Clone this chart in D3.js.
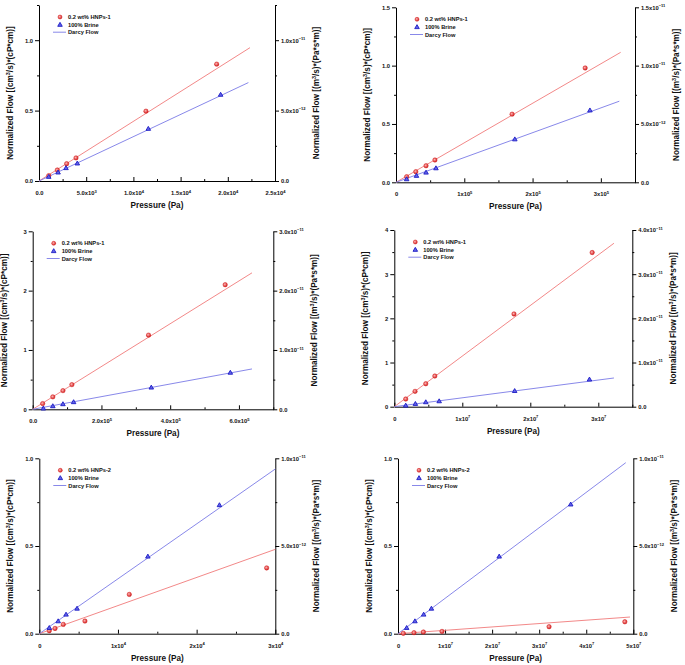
<!DOCTYPE html>
<html><head><meta charset="utf-8">
<script src="https://cdn.jsdelivr.net/npm/d3@7"></script>
<style>
body{margin:0;background:#fff}
svg{display:block}
text{font-family:"Liberation Sans",Arial,sans-serif;font-weight:bold;fill:#111}
</style>
</head><body>
<svg id="c" width="685" height="665"></svg>
<script>
// ---------------- DATA ----------------
// Panel 1 (top-left)
const p1Legend = ["0.2 wt% HNPs-1", "100% Brine", "Darcy Flow"];
const p1Hnp = [[1030,0.038],[1940,0.078],[2930,0.123],[3920,0.164],[11330,0.496],[18820,0.83]];
const p1Brine = [[1030,0.031],[2020,0.062],[2860,0.093],[4060,0.126],[11580,0.372],[19240,0.614]];
const p1DarcyHnp = [[0,0],[22350,0.947]];
const p1DarcyBrine = [[0,0],[22180,0.699]];
const p1XTicks = [0,5000,10000,15000,20000,25000];
const p1XLabels = ["0.0","5.0x10^3","1.0x10^4","1.5x10^4","2.0x10^4","2.5x10^4"];
const p1YTicks = [0,0.5,1.0];
const p1YLabels = ["0.0","0.5","1.0"];
const p1Y2Ticks = [0,5e-12,1e-11];
const p1Y2Labels = ["0.0","5.0x10^-12","1.0x10^-11"];

// Panel 2 (top-right)
const p2Legend = ["0.2 wt% HNPs-1", "100% Brine", "Darcy Flow"];
const p2Hnp = [[15600,0.048],[29000,0.091],[44000,0.142],[57000,0.191],[170000,0.584],[277000,0.98]];
const p2Brine = [[15600,0.028],[30000,0.057],[44000,0.085],[58500,0.122],[174000,0.37],[284000,0.618]];
const p2DarcyHnp = [[0,0],[329000,1.114]];
const p2DarcyBrine = [[0,0],[327000,0.695]];
const p2XTicks = [0,100000,200000,300000];
const p2XLabels = ["0","1x10^5","2x10^5","3x10^5"];
const p2YTicks = [0,0.5,1.0,1.5];
const p2YLabels = ["0.0","0.5","1.0","1.5"];
const p2Y2Ticks = [0,5e-12,1e-11,1.5e-11];
const p2Y2Labels = ["0.0","5.0x10^-12","1.0x10^-11","1.5x10^-11"];

// Panel 3 (middle-left)
const p3Legend = ["0.2 wt% HNPs-1", "100% Brine", "Darcy Flow"];
const p3Hnp = [[29000,0.096],[58500,0.21],[88000,0.315],[114000,0.416],[337000,1.25],[560000,2.10]];
const p3Brine = [[31000,0.017],[58500,0.056],[88000,0.09],[119000,0.124],[345000,0.37],[575000,0.62]];
const p3DarcyHnp = [[0,0],[638000,2.30]];
const p3DarcyBrine = [[0,0],[638000,0.68]];
const p3XTicks = [0,200000,400000,600000];
const p3XLabels = ["0.0","2.0x10^5","4.0x10^5","6.0x10^5"];
const p3YTicks = [0,1,2,3];
const p3YLabels = ["0","1","2","3"];
const p3Y2Ticks = [0,1e-11,2e-11,3e-11];
const p3Y2Labels = ["0.0","1.0x10^-11","2.0x10^-11","3.0x10^-11"];

// Panel 4 (middle-right)
const p4Legend = ["0.2 wt% HNPs-1", "100% Brine", "Darcy Flow"];
const p4Hnp = [[1.68e6,0.174],[3.05e6,0.347],[4.63e6,0.52],[5.96e6,0.694],[1.76e7,2.10],[2.91e7,3.49]];
const p4Brine = [[1.68e6,0.03],[3.1e6,0.068],[4.63e6,0.106],[6.6e6,0.128],[1.77e7,0.36],[2.87e7,0.62]];
const p4DarcyHnp = [[0,0],[3.23e7,3.70]];
const p4DarcyBrine = [[0,0],[3.23e7,0.65]];
const p4XTicks = [0,1e7,2e7,3e7];
const p4XLabels = ["0","1x10^7","2x10^7","3x10^7"];
const p4YTicks = [0,1,2,3,4];
const p4YLabels = ["0","1","2","3","4"];
const p4Y2Ticks = [0,1e-11,2e-11,3e-11,4e-11];
const p4Y2Labels = ["0.0","1.0x10^-11","2.0x10^-11","3.0x10^-11","4.0x10^-11"];

// Panel 5 (bottom-left)
const p5Legend = ["0.2 wt% HNPs-2", "100% Brine", "Darcy Flow"];
const p5Hnp = [[1270,0.017],[2000,0.03],[3050,0.053],[5800,0.072],[11440,0.224],[28900,0.375]];
const p5Brine = [[1270,0.034],[2400,0.072],[3400,0.11],[4800,0.144],[13800,0.441],[22900,0.734]];
const p5DarcyHnp = [[0,0],[30000,0.481]];
const p5DarcyBrine = [[0,0],[30000,0.939]];
const p5XTicks = [0,10000,20000,30000];
const p5XLabels = ["0","1x10^4","2x10^4","3x10^4"];
const p5YTicks = [0,0.5,1.0];
const p5YLabels = ["0.0","0.5","1.0"];
const p5Y2Ticks = [0,5e-12,1e-11];
const p5Y2Labels = ["0.0","5.0x10^-12","1.0x10^-11"];

// Panel 6 (bottom-right)
const p6Legend = ["0.2 wt% HNPs-2", "100% Brine", "Darcy Flow"];
const p6Hnp = [[1.13e6,0.002],[3.4e6,0.006],[5.4e6,0.0095],[9.35e6,0.013],[3.21e7,0.04],[4.82e7,0.068]];
const p6Brine = [[1.84e6,0.034],[3.6e6,0.072],[5.45e6,0.11],[7.1e6,0.144],[2.15e7,0.441],[3.67e7,0.738]];
const p6DarcyHnp = [[0,0],[4.93e7,0.095]];
const p6DarcyBrine = [[0,0],[4.84e7,0.975]];
const p6XTicks = [0,1e7,2e7,3e7,4e7,5e7];
const p6XLabels = ["0","1x10^7","2x10^7","3x10^7","4x10^7","5x10^7"];
const p6YTicks = [0,0.5,1.0];
const p6YLabels = ["0.0","0.5","1.0"];
const p6Y2Ticks = [0,5e-12,1e-11];
const p6Y2Labels = ["0.0","5.0x10^-12","1.0x10^-11"];

const xTitle = "Pressure (Pa)";
const yTitle = ["Normalized Flow [(cm", "3", "/s)*(cP*cm)]"];
const y2Title = ["Normalized Flow [(m", "3", "/s)*(Pa*s*m)]"];

// ---------------- DRAWING ----------------
const svg = d3.select("#c");
const RED = "#d42020", BLUE = "#1c1cc4", LRED = "#f07a7a", LBLUE = "#7b7be6";

const defs = svg.append("defs");
const rg = defs.append("radialGradient").attr("id","sph").attr("cx","40%").attr("cy","40%").attr("r","60%");
rg.append("stop").attr("offset","0%").attr("stop-color","#ffb4b4");
rg.append("stop").attr("offset","100%").attr("stop-color","#d01c1c");

function supLabel(sel, str, fs) {
  sel.text(null);
  const parts = str.split("^");
  sel.append("tspan").text(parts[0]);
  if (parts.length > 1) {
    sel.append("tspan").attr("dy", -fs*0.45).style("font-size", (fs*0.7)+"px").text(parts[1].replace("-", "\u2212"));
  }
}

function panel(c) {
  const [L, R, T, B] = c.box;
  const g = svg.append("g");
  const x = d3.scaleLinear().domain(c.xDomain).range([L, R]);
  const y = d3.scaleLinear().domain(c.yDomain).range([B, T]);
  const y2 = d3.scaleLinear().domain([c.yDomain[0]*1e-11, c.yDomain[1]*1e-11]).range([B, T]);
  const FS = 5.8;

  const xMinor = c.xTicks.slice(0, -1).map((v, i) => (v + c.xTicks[i+1]) / 2);
  if (c.xDomain[1] > c.xTicks[c.xTicks.length-1]) {
    const step = c.xTicks[1] - c.xTicks[0];
    const m = c.xTicks[c.xTicks.length-1] + step/2;
    if (m <= c.xDomain[1] + 1e-9) xMinor.push(m);
  }
  const yMinor = c.yTicks.slice(0, -1).map((v, i) => (v + c.yTicks[i+1]) / 2);
  if (c.yDomain[1] > c.yTicks[c.yTicks.length-1] + 1e-9) {
    const step = c.yTicks[1] - c.yTicks[0];
    yMinor.push(c.yTicks[c.yTicks.length-1] + step/2);
  }
  const y2Minor = yMinor.map(v => v*1e-11);

  const style = a => { a.selectAll("path,line").attr("stroke","#000").attr("stroke-width",1); a.selectAll("text").style("font-size", FS+"px").attr("fill","#111"); };

  const xa = g.append("g").attr("transform", `translate(0,${B})`)
    .call(d3.axisBottom(x).tickValues(c.xTicks).tickSize(-4).tickSizeOuter(0).tickPadding(10));
  style(xa);
  xa.selectAll(".tick text").each(function(d, i){ supLabel(d3.select(this), c.xLabels[i], FS); });
  const xm = g.append("g").attr("transform", `translate(0,${B})`)
    .call(d3.axisBottom(x).tickValues(xMinor).tickSize(-2).tickSizeOuter(0).tickFormat(""));
  style(xm); xm.select(".domain").remove();

  const ya = g.append("g").attr("transform", `translate(${L},0)`)
    .call(d3.axisLeft(y).tickValues(c.yTicks).tickSize(4).tickSizeOuter(0).tickPadding(2));
  style(ya);
  ya.selectAll(".tick text").each(function(d, i){ d3.select(this).text(c.yLabels[i]); });
  const ym = g.append("g").attr("transform", `translate(${L},0)`)
    .call(d3.axisLeft(y).tickValues(yMinor).tickSize(2).tickSizeOuter(0).tickFormat(""));
  style(ym); ym.select(".domain").remove();

  const ra = g.append("g").attr("transform", `translate(${R},0)`)
    .call(d3.axisRight(y2).tickValues(c.y2Ticks).tickSize(4).tickSizeOuter(0).tickPadding(2));
  style(ra);
  ra.selectAll(".tick text").each(function(d, i){ supLabel(d3.select(this), c.y2Labels[i], FS); });
  const rm = g.append("g").attr("transform", `translate(${R},0)`)
    .call(d3.axisRight(y2).tickValues(y2Minor).tickSize(2).tickSizeOuter(0).tickFormat(""));
  style(rm); rm.select(".domain").remove();

  const TF = 8.2;
  g.append("text").attr("x", (L+R)/2).attr("y", B+27).attr("text-anchor","middle")
    .style("font-size", TF+"px").text(xTitle);
  const lt = g.append("text").attr("transform", `translate(${L-26},${(T+B)/2}) rotate(-90)`)
    .attr("text-anchor","middle").style("font-size", TF+"px");
  lt.append("tspan").text(yTitle[0]);
  lt.append("tspan").attr("dy",-3).style("font-size","5.5px").text(yTitle[1]);
  lt.append("tspan").attr("dy",3).text(yTitle[2]);
  const rt = g.append("text").attr("transform", `translate(${R+44},${(T+B)/2}) rotate(-90)`)
    .attr("text-anchor","middle").style("font-size", TF+"px");
  rt.append("tspan").text(y2Title[0]);
  rt.append("tspan").attr("dy",-3).style("font-size","5.5px").text(y2Title[1]);
  rt.append("tspan").attr("dy",3).text(y2Title[2]);

  const line = d3.line().x(d => x(d[0])).y(d => y(d[1]));
  g.append("path").attr("d", line(c.darcyHnp)).attr("fill","none").attr("stroke", LRED).attr("stroke-width", 0.9);
  g.append("path").attr("d", line(c.darcyBrine)).attr("fill","none").attr("stroke", LBLUE).attr("stroke-width", 0.9);

  const tri = d3.symbol().type(d3.symbolTriangle).size(9);
  g.selectAll(".hn").data(c.hnp).join("circle")
    .attr("cx", d => x(d[0])).attr("cy", d => y(d[1])).attr("r", 2.2)
    .attr("fill","url(#sph)").attr("stroke", RED).attr("stroke-width", 0.5);
  g.selectAll(".br").data(c.brine).join("path")
    .attr("d", tri).attr("transform", d => `translate(${x(d[0])},${y(d[1])+0.4})`)
    .attr("fill","#6262e8").attr("stroke", BLUE).attr("stroke-width", 0.9);

  const lx = L + 21, ly = T + 12, dy = 7.6;
  g.append("circle").attr("cx", lx).attr("cy", ly).attr("r", 2.0)
    .attr("fill","url(#sph)").attr("stroke", RED).attr("stroke-width", 0.5);
  g.append("path").attr("d", tri).attr("transform", `translate(${lx},${ly+dy+0.4})`)
    .attr("fill","#6262e8").attr("stroke", BLUE).attr("stroke-width", 0.9);
  g.append("line").attr("x1", L+14).attr("x2", L+27).attr("y1", ly+2*dy).attr("y2", ly+2*dy)
    .attr("stroke", LBLUE).attr("stroke-width", 0.9);
  c.legend.forEach((t, i) => {
    g.append("text").attr("x", L+29).attr("y", ly + i*dy + 2).style("font-size","5.7px").text(t);
  });
}

panel({box:[39,275,5,181], xDomain:[0,25000], yDomain:[0,1.25], xTicks:p1XTicks, xLabels:p1XLabels,
  yTicks:p1YTicks, yLabels:p1YLabels, y2Ticks:p1Y2Ticks, y2Labels:p1Y2Labels,
  hnp:p1Hnp, brine:p1Brine, darcyHnp:p1DarcyHnp, darcyBrine:p1DarcyBrine, legend:p1Legend});
panel({box:[396,635,7.3,182.3], xDomain:[0,350000], yDomain:[0,1.5], xTicks:p2XTicks, xLabels:p2XLabels,
  yTicks:p2YTicks, yLabels:p2YLabels, y2Ticks:p2Y2Ticks, y2Labels:p2Y2Labels,
  hnp:p2Hnp, brine:p2Brine, darcyHnp:p2DarcyHnp, darcyBrine:p2DarcyBrine, legend:p2Legend});
panel({box:[32.7,273.3,231.3,409.3], xDomain:[0,700000], yDomain:[0,3], xTicks:p3XTicks, xLabels:p3XLabels,
  yTicks:p3YTicks, yLabels:p3YLabels, y2Ticks:p3Y2Ticks, y2Labels:p3Y2Labels,
  hnp:p3Hnp, brine:p3Brine, darcyHnp:p3DarcyHnp, darcyBrine:p3DarcyBrine, legend:p3Legend});
panel({box:[394.3,632.3,230,406.7], xDomain:[0,3.5e7], yDomain:[0,4], xTicks:p4XTicks, xLabels:p4XLabels,
  yTicks:p4YTicks, yLabels:p4YLabels, y2Ticks:p4Y2Ticks, y2Labels:p4Y2Labels,
  hnp:p4Hnp, brine:p4Brine, darcyHnp:p4DarcyHnp, darcyBrine:p4DarcyBrine, legend:p4Legend});
panel({box:[39.3,275.3,458.3,633.7], xDomain:[0,30000], yDomain:[0,1], xTicks:p5XTicks, xLabels:p5XLabels,
  yTicks:p5YTicks, yLabels:p5YLabels, y2Ticks:p5Y2Ticks, y2Labels:p5Y2Labels,
  hnp:p5Hnp, brine:p5Brine, darcyHnp:p5DarcyHnp, darcyBrine:p5DarcyBrine, legend:p5Legend});
panel({box:[398,633.3,458.3,633.7], xDomain:[0,5e7], yDomain:[0,1], xTicks:p6XTicks, xLabels:p6XLabels,
  yTicks:p6YTicks, yLabels:p6YLabels, y2Ticks:p6Y2Ticks, y2Labels:p6Y2Labels,
  hnp:p6Hnp, brine:p6Brine, darcyHnp:p6DarcyHnp, darcyBrine:p6DarcyBrine, legend:p6Legend});
</script>
</body></html>
